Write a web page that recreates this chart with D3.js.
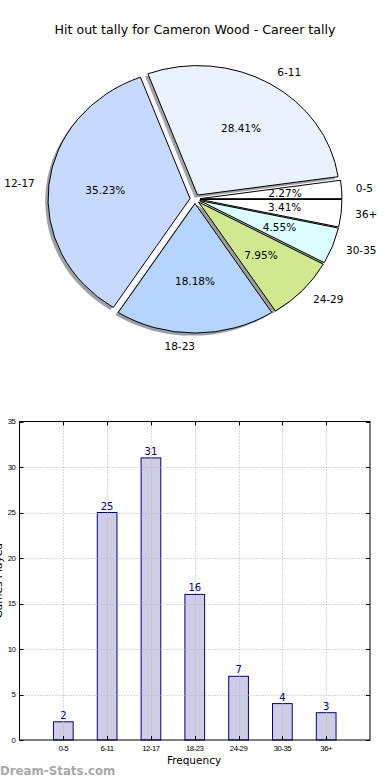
<!DOCTYPE html>
<html><head><meta charset="utf-8">
<script src="https://cdn.jsdelivr.net/npm/d3@7"></script>
<style>
html,body{margin:0;padding:0;background:#fff;}
svg{display:block;font-family:"DejaVu Sans",sans-serif;}
</style></head>
<body>
<svg id="c" width="390" height="780"></svg>
<script>
const title = "Hit out tally for Cameron Wood - Career tally";
const categories = ["0-5","6-11","12-17","18-23","24-29","30-35","36+"];
const counts = [2,25,31,16,7,4,3];
const pieColors = ["#ffffff","#eaf2ff","#c6d9ff","#b5d5ff","#d0e98e","#dcffff","#ffffff"];
const yTicks = [0,5,10,15,20,25,30,35];
const xLabel = "Frequency";
const yLabel = "Games Played";
const watermark = "Dream-Stats.com";

const svg = d3.select("#c");

// Title
svg.append("text").attr("x",195).attr("y",34).attr("text-anchor","middle")
  .attr("font-size",12.6).attr("fill","#000").text(title);

// ---------- Pie ----------
const cx = 195, cy = 199, rx = 142, ry = 129.5, explode = 0.035;
const sy = ry/rx;
const total = d3.sum(counts);
const pie = d3.pie().sort(null).startAngle(Math.PI/2).endAngle(Math.PI/2 - 2*Math.PI);
const arcs = pie(counts);
const arc = d3.arc().innerRadius(0).outerRadius(rx);
const pg = svg.append("g").attr("transform",`translate(${cx},${cy}) scale(1,${sy})`);
const dir = d => { const m = (d.startAngle + d.endAngle)/2; return [Math.sin(m), -Math.cos(m)]; };

// shadows
pg.selectAll("path.sh").data(arcs).enter().append("path").attr("class","sh")
  .attr("d",arc)
  .attr("transform",d=>{const [ux,uy]=dir(d);return `translate(${ux*explode*rx - 0.02*rx},${uy*explode*rx + 0.02*rx})`;})
  .attr("fill",(d,i)=>{const c=d3.rgb(pieColors[i]);return d3.rgb(c.r*0.3,c.g*0.3,c.b*0.3);})
  .attr("fill-opacity",0.5);
// wedges
pg.selectAll("path.w").data(arcs).enter().append("path").attr("class","w")
  .attr("d",arc)
  .attr("transform",d=>{const [ux,uy]=dir(d);return `translate(${ux*explode*rx},${uy*explode*rx})`;})
  .attr("fill",(d,i)=>pieColors[i]).attr("stroke","#000").attr("stroke-width",1)
  .attr("vector-effect","non-scaling-stroke").attr("stroke-linejoin","miter");

// labels
arcs.forEach((d,i)=>{
  const [ux,uy]=dir(d);
  const ox = cx + ux*explode*rx, oy = cy + uy*explode*ry;
  const lx = ox + ux*1.1*rx, ly = oy + uy*1.1*ry;
  svg.append("text").attr("x",lx).attr("y",ly).attr("dy","0.35em")
    .attr("text-anchor", ux > 1e-9 ? "start" : "end")
    .attr("font-size",10.5).attr("fill","#000").text(categories[i]);
  const px = ox + ux*0.6*rx, py = oy + uy*0.6*ry;
  svg.append("text").attr("x",px).attr("y",py).attr("dy","0.35em")
    .attr("text-anchor","middle").attr("font-size",10.5).attr("fill","#000")
    .text((100*counts[i]/total).toFixed(2)+"%");
});

// ---------- Bar chart ----------
const L=19.5, R=370, T=421.5, B=740;
const x = d3.scaleLinear().domain([0,categories.length+1]).range([L,R]);
const y = d3.scaleLinear().domain([0,35]).range([B,T]);
const bw = x(0.45)-x(0);
const bg = svg.append("g");

// bars
bg.selectAll("rect").data(counts).enter().append("rect")
  .attr("x",(d,i)=>x(i+1)-bw/2).attr("width",bw)
  .attr("y",d=>y(d)).attr("height",d=>y(0)-y(d))
  .attr("fill","#cdcde6").attr("stroke","#00008b").attr("stroke-width",1);

// grid
const grid = bg.append("g").attr("stroke","#b4b4b4").attr("stroke-width",1).attr("stroke-dasharray","1,2");
yTicks.slice(1,-1).forEach(t=>grid.append("line").attr("x1",L).attr("x2",R).attr("y1",Math.round(y(t))+0.5).attr("y2",Math.round(y(t))+0.5));
categories.forEach((c,i)=>grid.append("line").attr("x1",Math.round(x(i+1))+0.5).attr("x2",Math.round(x(i+1))+0.5).attr("y1",T).attr("y2",B));

// ticks
const tk = bg.append("g").attr("stroke","#000").attr("stroke-width",1);
yTicks.forEach(t=>{const yy=Math.round(y(t))+0.5;
  tk.append("line").attr("x1",L).attr("x2",L+4).attr("y1",yy).attr("y2",yy);
  tk.append("line").attr("x1",R-4).attr("x2",R).attr("y1",yy).attr("y2",yy);});
categories.forEach((c,i)=>{const xx=Math.round(x(i+1))+0.5;
  tk.append("line").attr("x1",xx).attr("x2",xx).attr("y1",B).attr("y2",B-4);
  tk.append("line").attr("x1",xx).attr("x2",xx).attr("y1",T).attr("y2",T+4);});

// frame
bg.append("rect").attr("x",L).attr("y",T).attr("width",R-L).attr("height",B-T)
  .attr("fill","none").attr("stroke","#000").attr("stroke-width",1);

// tick labels
yTicks.forEach(t=>bg.append("text").attr("x",15.5).attr("y",y(t)).attr("dy","0.35em")
  .attr("text-anchor","end").attr("font-size",7.8).attr("font-family","'Liberation Sans',sans-serif")
  .attr("letter-spacing",-0.4).attr("fill","#000").text(t));
categories.forEach((c,i)=>bg.append("text").attr("x",x(i+1)).attr("y",748).attr("dy","0.35em")
  .attr("text-anchor","middle").attr("font-size",7.8).attr("font-family","'Liberation Sans',sans-serif")
  .attr("letter-spacing",-0.5).attr("fill","#000").text(c));

// value labels
counts.forEach((v,i)=>bg.append("text").attr("x",x(i+1)).attr("y",y(v)-3)
  .attr("text-anchor","middle").attr("font-size",10).attr("fill","#00008b").text(v));

// axis labels
svg.append("text").attr("x",194).attr("y",760).attr("dy","0.35em").attr("text-anchor","middle")
  .attr("font-size",10.5).attr("fill","#000").text(xLabel);
// y label: partly off the left edge, as in the reference
svg.append("text").attr("transform",`translate(1.5,${(T+B)/2}) rotate(-90)`).attr("text-anchor","middle")
  .attr("font-size",10.5).attr("fill","#000").text(yLabel);

// watermark
svg.append("text").attr("x",0).attr("y",775).attr("font-size",11.8).attr("font-weight","bold")
  .attr("fill","#a8a8a8").text(watermark);
</script>
</body></html>
